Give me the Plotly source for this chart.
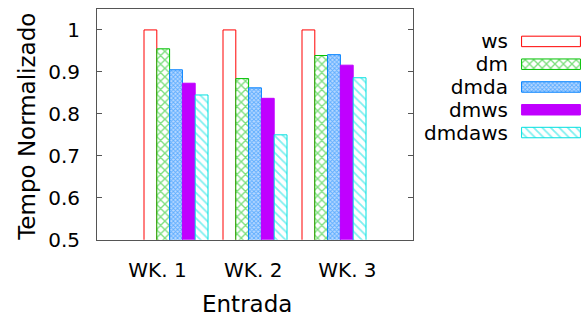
import plotly.graph_objects as go

categories = ["WK. 1", "WK. 2", "WK. 3"]
series_names = ["ws", "dm", "dmda", "dmws", "dmdaws"]
ws = [1.0, 1.0, 1.0]
dm = [0.955, 0.884, 0.939]
dmda = [0.905, 0.862, 0.941]
dmws = [0.873, 0.837, 0.916]
dmdaws = [0.845, 0.750, 0.886]
values = [ws, dm, dmda, dmws, dmdaws]
y_ticks = [0.5, 0.6, 0.7, 0.8, 0.9, 1.0]
y_tick_labels = ["0.5", "0.6", "0.7", "0.8", "0.9", "1"]

W, H = 586, 322
FONT = "DejaVu Sans"

colors = ["#ff0000", "#00c000", "#0080ff", "#c000ff", "#00e0e0"]
patterns = [
    dict(shape=""),
    dict(shape="x", size=6, solidity=0.4, fgcolor="#00c000", bgcolor="white", fillmode="overlay"),
    dict(shape="x", size=3, solidity=0.5, fgcolor="#0080ff", bgcolor="#b8d8ff", fillmode="overlay"),
    dict(shape=""),
    dict(shape="\\", size=6, solidity=0.3, fgcolor="#00e0e0", bgcolor="white", fillmode="overlay"),
]
fills = ["white", "white", "#b8d8ff", "#c000ff", "white"]

fig = go.Figure()
xpos = list(range(len(categories)))
for i, name in enumerate(series_names):
    fig.add_trace(go.Bar(
        x=xpos, y=values[i], name=name, showlegend=False,
        marker=dict(color=fills[i], line=dict(color=colors[i], width=1), pattern=patterns[i]),
        xaxis="x", yaxis="y",
    ))
    # legend swatch on a secondary axis
    fig.add_trace(go.Bar(
        y=[name], x=[1], base=[0], orientation="h", showlegend=False, width=0.46,
        marker=dict(color=fills[i], line=dict(color=colors[i], width=1), pattern=patterns[i]),
        xaxis="x2", yaxis="y2", hoverinfo="skip",
    ))

px0, px1 = 97, 413
py0, py1 = 9.3, 249
fig.update_layout(
    width=W, height=H,
    margin=dict(l=0, r=0, t=0, b=0),
    paper_bgcolor="white", plot_bgcolor="white",
    barmode="group", bargap=0.19, bargroupgap=0,
    font=dict(family=FONT, size=20, color="black"),
    xaxis=dict(
        domain=[px0 / W, px1 / W], range=[-1, 3],
        tickvals=[-0.234, 0.978, 2.17], ticktext=categories,
        ticks="", showline=True, linecolor="#555", linewidth=1, mirror=True,
        showgrid=False, zeroline=False, ticklabelstandoff=12,
        tickfont=dict(size=20),
    ),
    yaxis=dict(
        domain=[1 - py1 / H, 1 - py0 / H], range=[0.5, 1.05],
        tickvals=y_ticks, ticktext=y_tick_labels,
        ticks="inside", ticklen=5, tickcolor="#555", showline=True, linecolor="#555",
        linewidth=1, mirror="ticks", showgrid=False, zeroline=False,
        ticklabelstandoff=12, tickfont=dict(size=20),
    ),
    xaxis2=dict(
        domain=[521 / W, 581 / W], range=[-0.01, 1.01], visible=False, anchor="y2",
    ),
    yaxis2=dict(
        domain=[1 - 149.5 / H, 1 - 31.2 / H], range=[4.5, -0.5], anchor="x2",
        tickmode="array", tickvals=series_names, ticktext=series_names,
        showline=False, showgrid=False, zeroline=False, ticks="",
        ticklabelstandoff=12, tickfont=dict(size=20),
    ),
    annotations=[
        dict(text="Entrada", x=246.7 / W, y=1 - 316 / H, xref="paper", yref="paper",
             xanchor="center", yanchor="middle", showarrow=False, font=dict(size=23)),
        dict(text="Tempo Normalizado", x=27 / W, y=1 - 131.7 / H, xref="paper", yref="paper",
             xanchor="center", yanchor="middle", showarrow=False, textangle=-90,
             font=dict(size=23)),
    ],
)

fig.write_html("out.html")
